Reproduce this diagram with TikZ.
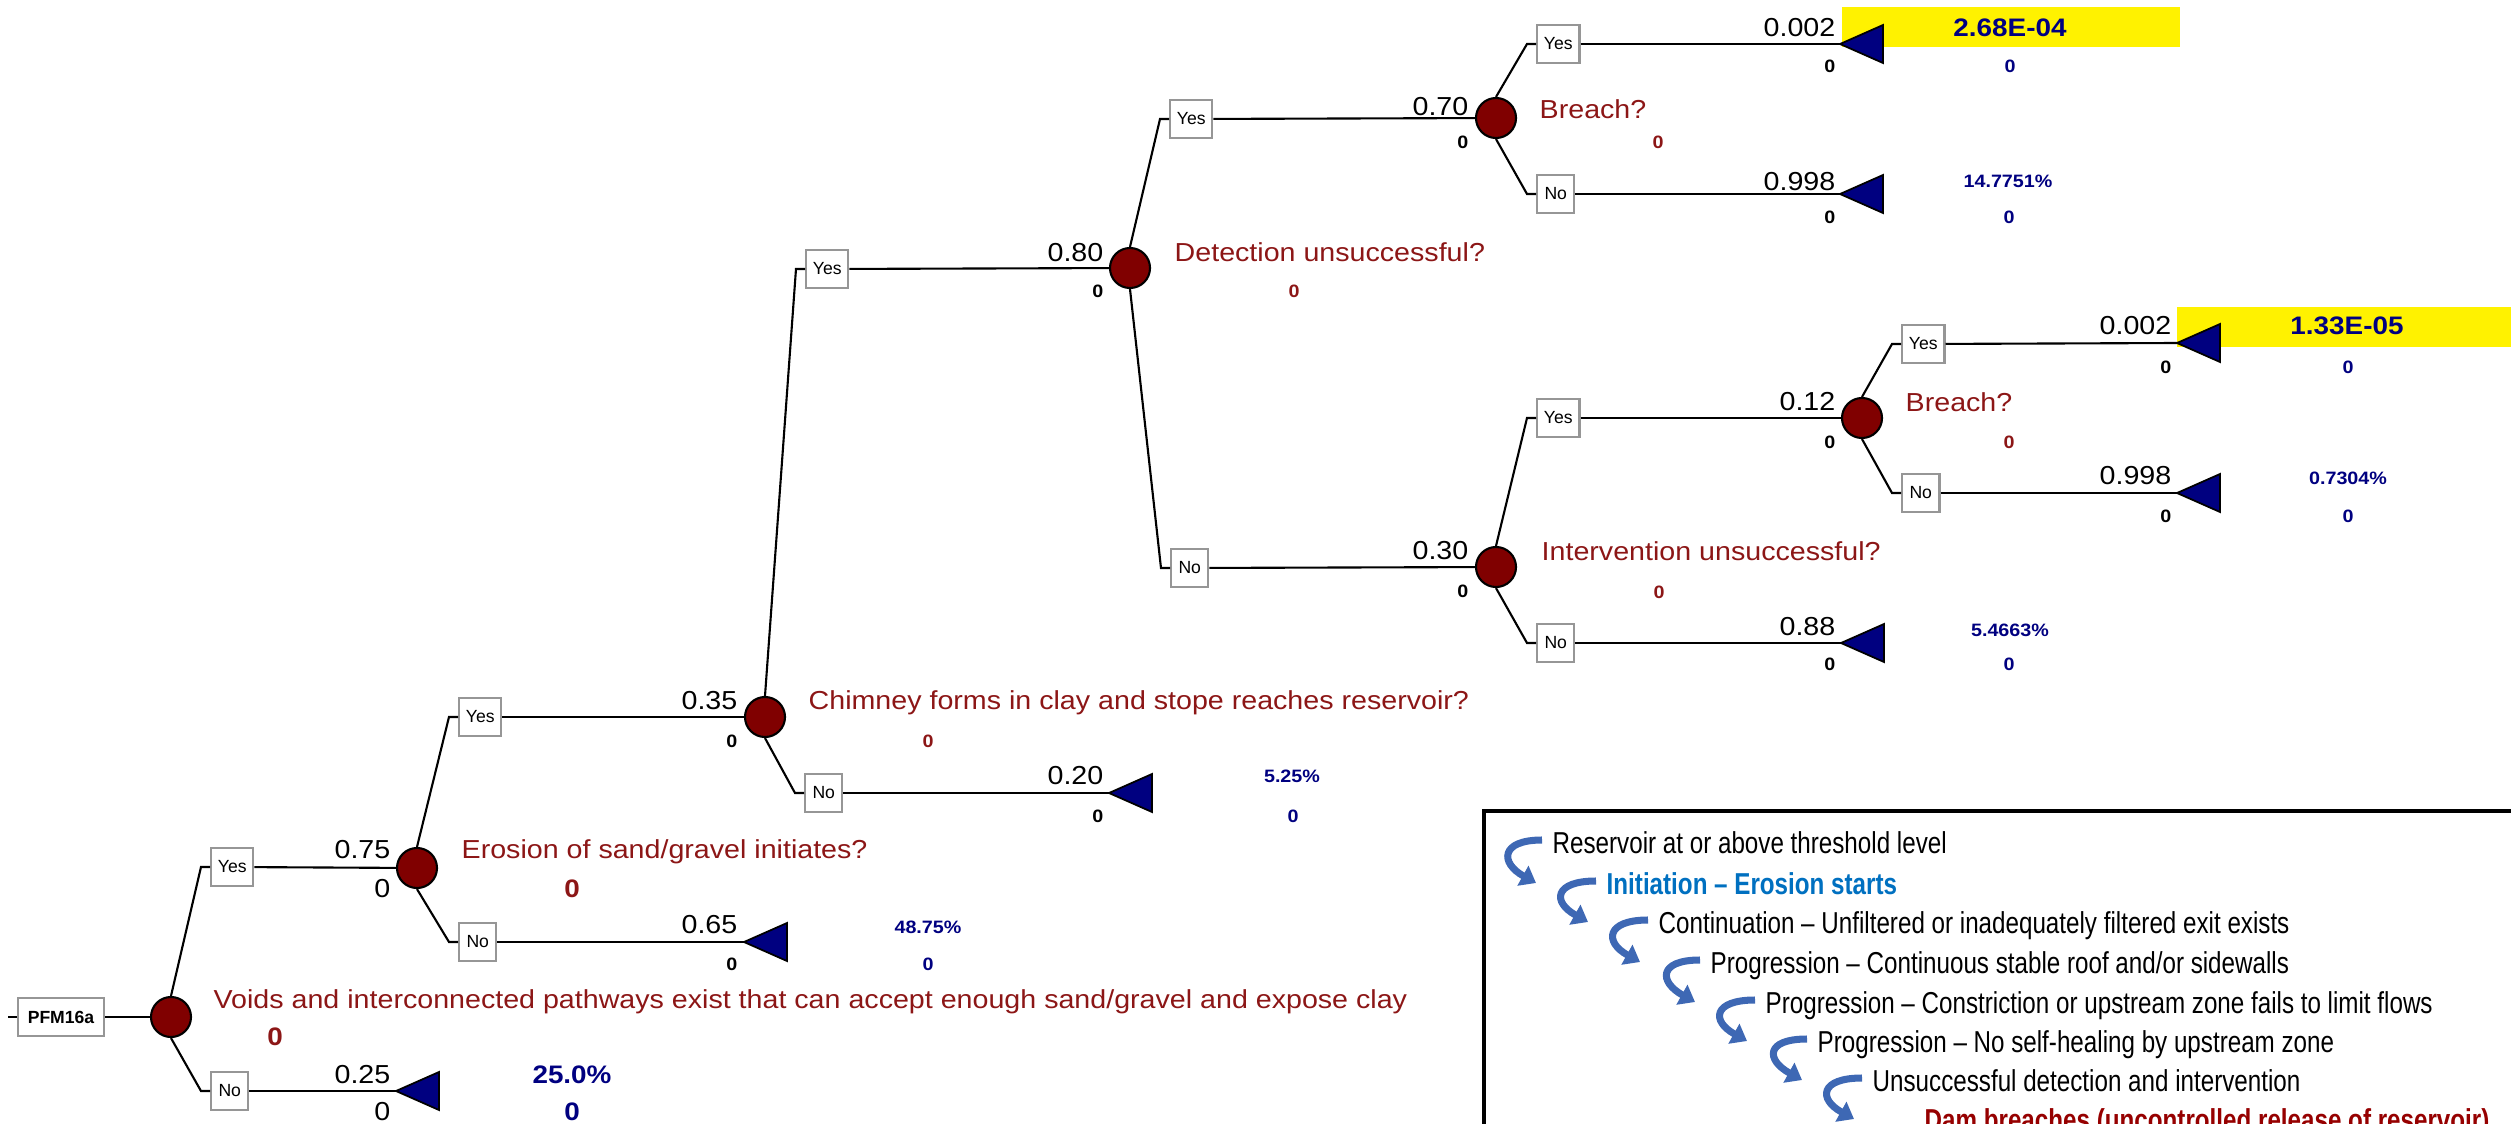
\documentclass[tikz,border=0pt]{standalone}
\usepackage{fontspec}
\setmainfont{Liberation Sans}
\newfontfamily\trf{Liberation Sans}[FakeStretch=1.1]
\newfontfamily\lgf{Liberation Sans}[FakeStretch=0.8]
\usetikzlibrary{arrows.meta}
\definecolor{mar}{RGB}{128,0,0}
\definecolor{qred}{RGB}{140,22,22}
\definecolor{nav}{RGB}{0,0,128}
\definecolor{legblue}{RGB}{0,112,192}
\definecolor{legred}{RGB}{150,0,0}
\definecolor{arrblue}{RGB}{62,104,180}
\definecolor{boxgray}{RGB}{150,150,150}
\newcommand\TBig{\trf\fontsize{7.4}{8.5}\selectfont}
\newcommand\TSm{\trf\bfseries\fontsize{5.1}{6}\selectfont}
\newcommand\TBigB{\trf\bfseries\fontsize{7.2}{8.5}\selectfont}
\newcommand\TBx{\fontsize{5}{6}\selectfont}
\newcommand\LgF{\lgf\fontsize{8.6}{10}\selectfont}
\begin{document}
\begin{tikzpicture}[x=0.01cm,y=-0.01cm,
  box/.style={draw=boxgray, fill=white, line width=0.7pt, inner sep=0pt, minimum height=0.38cm, font=\TBx},
  yesbox/.style={box, minimum width=0.42cm, anchor=west},
  nobox/.style={box, minimum width=0.37cm, anchor=west},
  chance/.style={circle, draw=black, fill=mar, line width=0.6pt, minimum size=0.40cm, inner sep=0pt},
  edge/.style={draw=black, line width=0.6pt},
  tri/.style={draw=black, fill=nav, line width=0.5pt, line join=miter},
  prob/.style={font=\TBig, inner sep=0pt, anchor=base east},
  probz/.style={font=\TBig, inner sep=0pt, anchor=base east},
  val/.style={font=\TSm, inner sep=0pt, anchor=base east},
  q/.style={font=\TBig, text=qred, inner sep=0pt, anchor=base west},
  qv/.style={font=\TSm, text=qred, inner sep=0pt, anchor=base},
  qvb/.style={font=\TBigB, text=qred, inner sep=0pt, anchor=base},
  pct/.style={font=\TSm, text=nav, inner sep=0pt, anchor=base},
  bigb/.style={font=\TBigB, text=nav, inner sep=0pt, anchor=base},
  leg/.style={font=\LgF, inner sep=0pt, anchor=base west},
  legarr/.style={draw=arrblue, line width=2pt, -{Triangle[length=0.15cm,width=0.22cm]}},
  leaf/.pic={\draw[tri] (0,0) -- (43,-19) -- (43,19) -- cycle;}
]
\useasboundingbox (0,0) rectangle (2511,1124);
\clip (0,0) rectangle (2511,1124);

% yellow highlights
\fill[yellow] (1842,7) rectangle (2180,47);
\fill[yellow] (2177,307) rectangle (2530,347);

% ---------- root ----------
\coordinate (s0) at (8,1017);
\node[box, minimum width=0.86cm] (pfm) at (61,1017) {\bfseries PFM16a};
\node[chance] (c0) at (171,1017) {};
\node[q] (q0) at (213,1008) {Voids and interconnected pathways exist that can accept enough sand/gravel and expose clay};
\node[qvb] (q0v) at (275,1045) {0};
\node[yesbox] (y1) at (210,867) {Yes};
\node[nobox] (n1) at (210,1091) {No};

% ---------- level 1 ----------
\node[prob] (p1) at (391,858) {0.75};
\node[probz] (z1) at (391,897) {0};
\node[chance] (c1) at (417,868) {};
\node[q] (q1) at (461,858) {Erosion of sand/gravel initiates?};
\node[qvb] (q1v) at (572,897) {0};
\node[prob] (p1n) at (391,1083) {0.25};
\node[probz] (z1n) at (391,1120) {0};
\coordinate (t1) at (396,1091);
\node[bigb] (r1) at (572,1083) {25.0\%};
\node[bigb] (r1z) at (572,1120) {0};

% ---------- level 2 ----------
\node[yesbox] (y2) at (458,717) {Yes};
\node[nobox] (n2) at (458,942) {No};
\node[prob] (p2) at (738,709) {0.35};
\node[val] (z2) at (738,747) {0};
\node[chance] (c2) at (765,717) {};
\node[q] (q2) at (808,709) {Chimney forms in clay and stope reaches reservoir?};
\node[qv] (q2v) at (928,747) {0};
\node[prob] (p2n) at (738,933) {0.65};
\node[val] (z2n) at (738,970) {0};
\coordinate (t2) at (744,942);
\node[pct] (r2) at (928,933) {48.75\%};
\node[pct] (r2z) at (928,970) {0};

% ---------- level 3 ----------
\node[yesbox] (y3) at (805,269) {Yes};
\node[nobox] (n3) at (804,793) {No};
\node[prob] (p3) at (1104,261) {0.80};
\node[val] (z3) at (1104,297) {0};
\node[chance] (c3) at (1130,268) {};
\node[q] (q3) at (1174,261) {Detection unsuccessful?};
\node[qv] (q3v) at (1294,297) {0};
\node[prob] (p3n) at (1104,784) {0.20};
\node[val] (z3n) at (1104,822) {0};
\coordinate (t3) at (1109,793);
\node[pct] (r3) at (1292,782) {5.25\%};
\node[pct] (r3z) at (1293,822) {0};

% ---------- level 4 ----------
\node[yesbox] (y4) at (1169,119) {Yes};
\node[nobox] (n4) at (1170,568) {No};
\node[prob] (p4) at (1469,115) {0.70};
\node[val] (z4) at (1469,148) {0};
\node[chance] (c4) at (1496,118) {};
\node[q] (q4) at (1539,118) {Breach?};
\node[qv] (q4v) at (1658,148) {0};
\node[prob] (p4n) at (1469,559) {0.30};
\node[val] (z4n) at (1469,597) {0};
\node[chance] (c5) at (1496,567) {};
\node[q] (q5) at (1541,560) {Intervention unsuccessful?};
\node[qv] (q5v) at (1659,598) {0};

% ---------- level 5 (after first Breach) ----------
\node[yesbox] (y5) at (1536,44) {Yes};
\node[nobox] (n5) at (1536,194) {No};
\node[prob] (p5) at (1836,37) {0.002};
\node[val] (z5) at (1836,73) {0};
\coordinate (t5) at (1840,44);
\node[bigb] (r5) at (2010,37) {2.68E-04};
\node[pct] (r5z) at (2010,73) {0};
\node[prob] (p5n) at (1836,190) {0.998};
\node[val] (z5n) at (1836,223) {0};
\coordinate (t5n) at (1840,194);
\node[pct] (r5n) at (2008,187) {14.7751\%};
\node[pct] (r5nz) at (2009,223) {0};

% ---------- level 5 (after Intervention) ----------
\node[yesbox] (y5b) at (1536,418) {Yes};
\node[nobox] (n5b) at (1536,643) {No};
\node[prob] (p5b) at (1836,410) {0.12};
\node[val] (z5b) at (1836,448) {0};
\node[chance] (c6) at (1862,418) {};
\node[q] (q6) at (1905,411) {Breach?};
\node[qv] (q6v) at (2009,448) {0};
\node[prob] (p5bn) at (1836,635) {0.88};
\node[val] (z5bn) at (1836,670) {0};
\coordinate (t5bn) at (1841,643);
\node[pct] (r5bn) at (2010,636) {5.4663\%};
\node[pct] (r5bnz) at (2009,670) {0};

% ---------- level 6 ----------
\node[yesbox] (y6) at (1901,344) {Yes};
\node[nobox] (n6) at (1901,493) {No};
\node[prob] (p6) at (2172,334) {0.002};
\node[val] (z6) at (2172,373) {0};
\coordinate (t6) at (2177,343);
\node[bigb] (r6) at (2347,334) {1.33E-05};
\node[pct] (r6z) at (2348,373) {0};
\node[prob] (p6n) at (2172,484) {0.998};
\node[val] (z6n) at (2172,522) {0};
\coordinate (t6n) at (2177,493);
\node[pct] (r6n) at (2348,484) {0.7304\%};
\node[pct] (r6nz) at (2348,522) {0};

% ---------- end triangles ----------
\pic at (t1) {leaf};
\pic at (t2) {leaf};
\pic at (t3) {leaf};
\pic at (t5) {leaf};
\pic at (t5n) {leaf};
\pic at (t5bn) {leaf};
\pic at (t6) {leaf};
\pic at (t6n) {leaf};

% ---------- connectors ----------
\draw[edge] (s0) -- (pfm);
\draw[edge] (pfm) -- (c0);
\draw[edge] (c0.north) -- ([xshift=-0.09cm]y1.west) -- (y1.west);
\draw[edge] (c0.south) -- ([xshift=-0.09cm]n1.west) -- (n1.west);
\draw[edge] (y1) -- (c1);
\draw[edge] (n1) -- (t1);
\draw[edge] (c1.north) -- ([xshift=-0.09cm]y2.west) -- (y2.west);
\draw[edge] (c1.south) -- ([xshift=-0.09cm]n2.west) -- (n2.west);
\draw[edge] (y2) -- (c2);
\draw[edge] (n2) -- (t2);
\draw[edge] (c2.north) -- ([xshift=-0.09cm]y3.west) -- (y3.west);
\draw[edge] (c2.south) -- ([xshift=-0.09cm]n3.west) -- (n3.west);
\draw[edge] (y3) -- (c3);
\draw[edge] (n3) -- (t3);
\draw[edge] (c3.north) -- ([xshift=-0.09cm]y4.west) -- (y4.west);
\draw[edge] (c3.south) -- ([xshift=-0.09cm]n4.west) -- (n4.west);
\draw[edge] (y4) -- (c4);
\draw[edge] (n4) -- (c5);
\draw[edge] (c4.north) -- ([xshift=-0.09cm]y5.west) -- (y5.west);
\draw[edge] (c4.south) -- ([xshift=-0.09cm]n5.west) -- (n5.west);
\draw[edge] (y5) -- (t5);
\draw[edge] (n5) -- (t5n);
\draw[edge] (c5.north) -- ([xshift=-0.09cm]y5b.west) -- (y5b.west);
\draw[edge] (c5.south) -- ([xshift=-0.09cm]n5b.west) -- (n5b.west);
\draw[edge] (y5b) -- (c6);
\draw[edge] (n5b) -- (t5bn);
\draw[edge] (c6.north) -- ([xshift=-0.09cm]y6.west) -- (y6.west);
\draw[edge] (c6.south) -- ([xshift=-0.09cm]n6.west) -- (n6.west);
\draw[edge] (y6) -- (t6);
\draw[edge] (n6) -- (t6n);

% ---------- legend ----------
\draw[line width=1.4pt] (1484,811) rectangle (2600,1200);
\node[leg] (L1) at (1552,853) {Reservoir at or above threshold level};
\node[leg, font=\LgF\bfseries, text=legblue] (L2) at (1606,894) {Initiation – Erosion starts};
\node[leg] (L3) at (1658,933) {Continuation – Unfiltered or inadequately filtered exit exists};
\node[leg] (L4) at (1710,973) {Progression – Continuous stable roof and/or sidewalls};
\node[leg] (L5) at (1765,1013) {Progression – Constriction or upstream zone fails to limit flows};
\node[leg] (L6) at (1817,1052) {Progression – No self-healing by upstream zone};
\node[leg] (L7) at (1872,1091) {Unsuccessful detection and intervention};
\node[leg, font=\LgF\bfseries, text=legred] (L8) at (1924,1130) {Dam breaches (uncontrolled release of reservoir)};
\foreach \a/\b in {L1/L2,L2/L3,L3/L4,L4/L5,L5/L6,L6/L7,L7/L8}{
  \draw[legarr] ([shift={(-10,-13)}]\a.base west) .. controls +(-42,0) and +(-36,-20) .. ([shift={(-70,-11)}]\b.base west);
}
\end{tikzpicture}
\end{document}
